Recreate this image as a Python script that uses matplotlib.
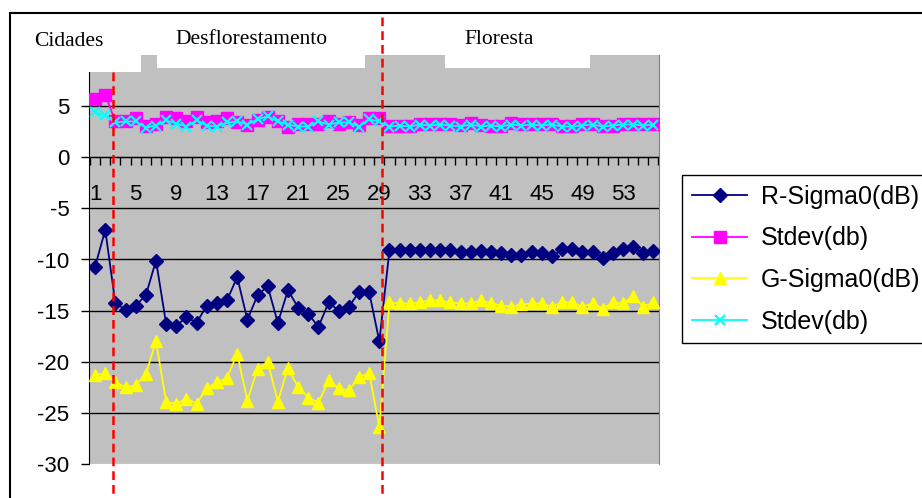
import numpy as np
import matplotlib.pyplot as plt
import matplotlib.transforms as mtransforms
from matplotlib.patches import Rectangle
from matplotlib.lines import Line2D

plt.rcParams['font.family'] = 'Liberation Sans'

# Amostras (1 a 56)
amostras = np.arange(1, 57)

r_sigma0 = [-10.7, -7.1, -14.3, -14.9, -14.5, -13.5, -10.1, -16.3, -16.5, -15.6,
            -16.2, -14.5, -14.3, -14.0, -11.7, -15.9, -13.5, -12.6, -16.2, -13.0,
            -14.7, -15.3, -16.6, -14.2, -15.0, -14.6, -13.2, -13.2, -18.0,
            -9.1, -9.1, -9.1, -9.1, -9.1, -9.1, -9.1, -9.3, -9.3, -9.2, -9.3,
            -9.4, -9.6, -9.6, -9.3, -9.4, -9.7, -9.0, -9.0, -9.3, -9.3, -9.9,
            -9.4, -9.0, -8.8, -9.4, -9.2]
r_stdev = [5.7, 6.1, 3.5, 3.5, 3.8, 3.1, 3.3, 3.9, 3.8, 3.5, 3.9, 3.4, 3.5, 3.8,
           3.4, 3.2, 3.6, 3.9, 3.5, 3.0, 3.3, 3.3, 3.3, 3.5, 3.3, 3.4, 3.2, 3.8,
           3.8, 3.1, 3.1, 3.1, 3.3, 3.3, 3.3, 3.3, 3.2, 3.35, 3.2, 3.1, 3.1, 3.35,
           3.3, 3.3, 3.3, 3.3, 3.1, 3.1, 3.3, 3.3, 3.1, 3.1, 3.3, 3.3, 3.3, 3.3]
g_sigma0 = [-21.3, -21.1, -22.0, -22.5, -22.3, -21.2, -18.0, -23.9, -24.1, -23.6,
            -24.1, -22.6, -22.0, -21.6, -19.2, -23.8, -20.7, -20.0, -23.9, -20.6,
            -22.5, -23.5, -24.0, -21.8, -22.6, -22.8, -21.5, -21.1, -26.4,
            -14.2, -14.3, -14.3, -14.2, -14.0, -14.0, -14.2, -14.3, -14.3, -14.0,
            -14.3, -14.5, -14.6, -14.4, -14.3, -14.3, -14.6, -14.2, -14.2, -14.6,
            -14.3, -14.8, -14.2, -14.3, -13.6, -14.6, -14.2]
g_stdev = [4.4, 4.1, 3.4, 3.5, 3.5, 2.9, 3.1, 3.6, 3.3, 3.0, 3.6, 3.1, 3.0, 3.4,
           3.5, 3.2, 3.7, 4.0, 3.5, 3.2, 3.0, 3.0, 3.5, 3.2, 3.4, 3.4, 3.0, 3.7,
           3.5, 3.0, 3.1, 3.0, 3.2, 3.1, 3.2, 3.1, 3.0, 3.2, 3.0, 3.1, 3.0, 3.2,
           3.1, 3.2, 3.1, 3.2, 3.0, 3.0, 3.1, 3.2, 3.0, 3.1, 3.2, 3.2, 3.1, 3.2]

rotulos_x = list(range(1, 57, 4))
valores_y = list(range(-30, 10, 5))

W, H = 922, 498
fx = lambda x: x / W          # pixel -> fração da figura (horizontal)
fy = lambda y: 1 - y / H      # pixel -> fração da figura (vertical)

fig = plt.figure(figsize=(W / 100, H / 100), dpi=100)
ax = fig.add_axes([fx(89), fy(464), fx(659) - fx(89), fy(55) - fy(464)])
ax.set_facecolor('#C0C0C0')

# grade horizontal
for v in valores_y[1:]:
    ax.axhline(v, color='black', lw=1, zorder=1)
ax.axhline(-30, color='#D8D8D8', lw=1, zorder=1)

# séries
l1, = ax.plot(amostras, r_sigma0, color='#000080', lw=1.3, marker='D', ms=7.5, zorder=3)
l2, = ax.plot(amostras, r_stdev, color='#FF00FF', lw=1.3, marker='s', ms=8, zorder=3)
l3, = ax.plot(amostras, g_sigma0, color='#FFFF00', lw=1.3, marker='^', ms=9, zorder=3)
l4, = ax.plot(amostras, g_stdev, color='#00FFFF', lw=1.3, marker='x', ms=7.5, mew=1.6, zorder=3)

ax.set_xlim(0.4, 56.55)
ax.set_ylim(-30, 10)

# eixos
ax.spines['top'].set_visible(False)
ax.spines['right'].set_color('#808080')
ax.spines['bottom'].set_position(('data', 0))
ax.spines['bottom'].set_zorder(2)

ax.set_yticks(valores_y)
ax.set_yticklabels([str(v) for v in valores_y])
ax.tick_params(axis='y', direction='out', length=6, width=1, pad=8, labelsize=16)

ax.set_xticks(rotulos_x)
ax.set_xticklabels([str(v) for v in rotulos_x])
ax.set_xticks(np.arange(0.5, 57, 1), minor=True)
ax.tick_params(axis='x', which='major', length=0, pad=19, labelsize=16)
ax.tick_params(axis='x', which='minor', direction='out', length=6, width=1)

# divisões entre as regiões
trans = mtransforms.blended_transform_factory(ax.transData, fig.transFigure)
for xv in [2.8, 29.25]:
    ax.add_line(Line2D([xv, xv], [fy(17), -0.02], transform=trans, color='red',
                       lw=1.8, ls=(0, (3.5, 2)), clip_on=False, zorder=6))

# caixas de texto das regiões
caixas = [('Cidades', 11, 141, 14, 72),
          ('Desflorestamento', 157, 365, 15, 68),
          ('Floresta', 445, 590, 15, 68)]
for txt, x0, x1, y0, y1 in caixas:
    fig.add_artist(Rectangle((fx(x0), fy(y1)), fx(x1) - fx(x0), fy(y0) - fy(y1),
                             transform=fig.transFigure, fc='white', ec='none', zorder=10))
fig.text(fx(69), fy(41), 'Cidades', ha='center', va='center', family='Liberation Serif', size=15.5, zorder=11)
fig.text(fx(252), fy(39), 'Desflorestamento', ha='center', va='center', family='Liberation Serif', size=15.5, zorder=11)
fig.text(fx(499), fy(39), 'Floresta', ha='center', va='center', family='Liberation Serif', size=15.5, zorder=11)

# moldura externa
fig.add_artist(Rectangle((fx(10), -0.05), 1.1, fy(13) + 0.05, transform=fig.transFigure,
                         fill=False, ec='black', lw=1.5, zorder=12))

leg = fig.legend([l1, l2, l3, l4], ['R-Sigma0(dB)', 'Stdev(db)', 'G-Sigma0(dB)', 'Stdev(db)'],
                 loc='upper left', bbox_to_anchor=(fx(682), fy(175)), bbox_transform=fig.transFigure,
                 borderaxespad=0, fancybox=False, edgecolor='black', framealpha=1,
                 prop={'family': 'Liberation Sans', 'size': 18}, handlelength=2.2,
                 handletextpad=0.55, labelspacing=0.7, borderpad=0.4)
leg.get_frame().set_linewidth(1)

fig.savefig('out.png', dpi=100)
